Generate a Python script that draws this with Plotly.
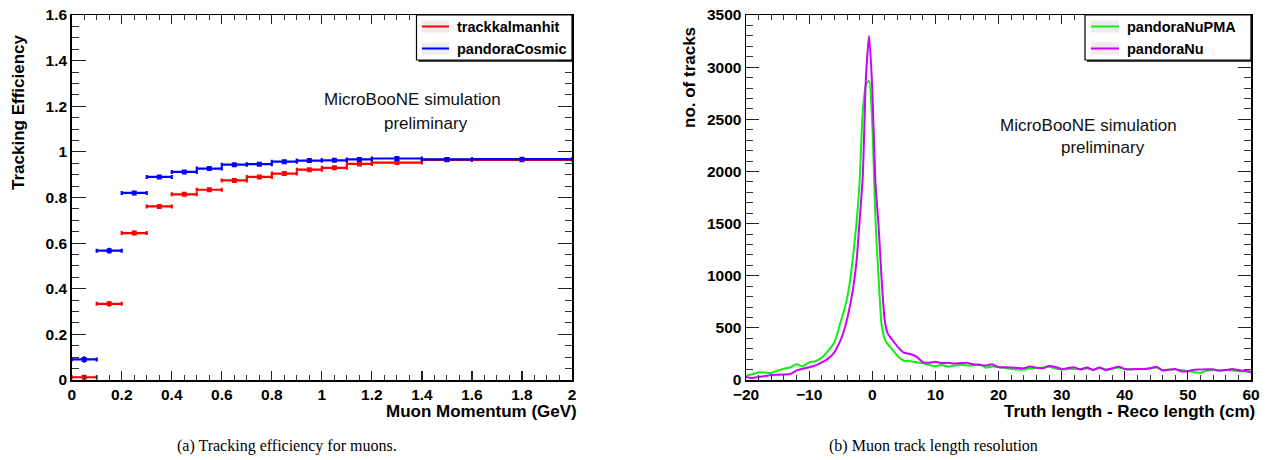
import plotly.graph_objects as go

W, H = 1267, 460

# ---------------- Left panel: tracking efficiency ----------------
bin_lo = [0.0, 0.1, 0.2, 0.3, 0.4, 0.5, 0.6, 0.7, 0.8, 0.9, 1.0, 1.1, 1.2, 1.4, 1.6]
bin_hi = [0.1, 0.2, 0.3, 0.4, 0.5, 0.6, 0.7, 0.8, 0.9, 1.0, 1.1, 1.2, 1.4, 1.6, 2.0]
eff_kalman = [0.012, 0.334, 0.644, 0.761, 0.814, 0.834, 0.875, 0.890, 0.905, 0.922,
              0.930, 0.947, 0.953, 0.965, 0.965]
err_kalman = [0.004, 0.012, 0.010, 0.008, 0.007, 0.006, 0.006, 0.005, 0.005, 0.005,
              0.005, 0.004, 0.004, 0.004, 0.004]
eff_cosmic = [0.090, 0.567, 0.820, 0.890, 0.912, 0.927, 0.944, 0.946, 0.957, 0.962,
              0.963, 0.967, 0.971, 0.967, 0.968]
err_cosmic = [0.014, 0.013, 0.009, 0.007, 0.006, 0.005, 0.005, 0.005, 0.004, 0.004,
              0.004, 0.004, 0.004, 0.004, 0.004]

# ---------------- Right panel: track length resolution ----------------
dlen = [-20, -19, -18, -17, -16, -15, -14, -13, -12, -11, -10, -9, -8, -7, -6,
        -5.5, -5, -4.5, -4, -3.5, -3, -2.5, -2, -1.5, -1, -0.5, 0, 0.5, 1, 1.5, 2, 2.5, 3,
        4, 5, 6, 7, 8, 9, 10, 11, 12, 13, 14, 15, 16, 17, 18, 19, 20, 21, 22, 23,
        24, 25, 26, 27, 28, 29, 30, 31, 32, 33, 34, 35, 36, 37, 38, 39, 40, 41, 42, 43,
        44, 45, 46, 47, 48, 49, 50, 51, 52, 53, 54, 55, 56, 57, 58, 59, 60]
n_pma = [40, 55, 75, 72, 68, 90, 108, 120, 150, 130, 170, 180, 215, 280, 360,
         450, 560, 660, 780, 960, 1210, 1500, 1900, 2580, 2830, 2870, 2450, 1550, 980, 520, 390, 340, 305,
         230, 185, 180, 170, 160, 145, 132, 145, 128, 138,
         147, 140, 140, 152, 118, 130, 125, 115, 105, 100,
         100, 110, 115, 120, 128, 110, 100, 105, 108, 105,
         110, 98, 115, 100, 105, 120, 105, 100, 105, 105,
         110, 120, 95, 100, 100, 95, 85, 75, 68, 90,
         95, 90, 95, 92, 85, 85, 80]
n_nu = [30, 18, 30, 38, 48, 50, 52, 58, 90, 108, 122, 140, 168, 205, 265,
        320, 385, 470, 580, 720, 890, 1130, 1530, 1950, 2900, 3300, 2800, 1900, 1480, 950, 560, 440, 400,
        320, 262, 250, 225, 172, 165, 175, 162, 165, 158,
        162, 165, 150, 145, 138, 150, 122, 122, 120, 116,
        112, 130, 118, 112, 135, 125, 105, 115, 121, 100,
        120, 96, 120, 96, 112, 128, 106, 104, 105, 105,
        112, 128, 92, 98, 105, 82, 85, 98, 100, 104,
        102, 90, 95, 105, 95, 88, 75]

RED, BLUE = "#ff0000", "#0000ff"
GREEN, MAG = "#11ee11", "#cc00ff"


def px(x):
    return x / W


def py(y):
    return 1 - y / H


# frame pixel positions
L_X0, L_X1 = 71.7, 572
R_X0, R_X1 = 746, 1251
Y_TOP, Y_BOT = 15, 380

fig = go.Figure()

centers = [(a + b) / 2 for a, b in zip(bin_lo, bin_hi)]
halfw = [(b - a) / 2 for a, b in zip(bin_lo, bin_hi)]

for eff, err, col in [(eff_kalman, err_kalman, RED), (eff_cosmic, err_cosmic, BLUE)]:
    fig.add_trace(go.Scatter(
        x=centers, y=eff, mode="markers", xaxis="x", yaxis="y",
        marker=dict(symbol="square", size=5, color=col),
        error_x=dict(type="data", array=halfw, color=col, thickness=2.2, width=2),
        error_y=dict(type="data", array=err, color=col, thickness=2, width=0),
        showlegend=False, hoverinfo="skip"))

fig.add_trace(go.Scatter(x=dlen, y=n_pma, mode="lines", xaxis="x2", yaxis="y2",
                         line=dict(color=GREEN, width=2, shape="spline", smoothing=0.6),
                         showlegend=False))
fig.add_trace(go.Scatter(x=dlen, y=n_nu, mode="lines", xaxis="x2", yaxis="y2",
                         line=dict(color=MAG, width=2, shape="spline", smoothing=0.6),
                         showlegend=False))

tickfont = dict(family="Liberation Sans", size=15.5, color="black", weight="bold")


def axis(domain, rng, dtick, mdtick, ticklen, mticklen, anchor):
    return dict(domain=domain, range=rng, dtick=dtick, tick0=0, automargin=False,
                showgrid=False, zeroline=False, showline=True, linecolor="black", linewidth=1.5,
                mirror="ticks", ticks="inside", ticklen=ticklen, tickwidth=1.2, tickcolor="#222",
                minor=dict(dtick=mdtick, ticks="inside", ticklen=mticklen, tickwidth=1,
                           tickcolor="#333", showgrid=False),
                tickfont=tickfont, anchor=anchor, fixedrange=True)


ydom = [py(Y_BOT), py(Y_TOP)]
fig.update_layout(
    width=W, height=H, margin=dict(l=0, r=0, t=0, b=0, pad=0, autoexpand=False),
    paper_bgcolor="white", plot_bgcolor="white", showlegend=False,
    xaxis=axis([px(L_X0), px(L_X1)], [0, 2], 0.2, 0.05, 9, 5, "y"),
    yaxis=axis(ydom, [0, 1.6], 0.2, 0.05, 14, 7, "x"),
    xaxis2=axis([px(R_X0), px(R_X1)], [-20, 60], 10, 2, 9, 5, "y2"),
    yaxis2=axis(ydom, [0, 3500], 500, 100, 13, 7, "x2"),
)

shapes = []
ann = []

title_font = dict(family="Liberation Sans", size=17, color="black", weight="bold")
ann.append(dict(text="Muon Momentum (GeV)", x=px(579), y=py(411), xanchor="right", yanchor="middle",
                font=title_font))
ann.append(dict(text="Truth length - Reco length (cm)", x=px(1257), y=py(411), xanchor="right",
                yanchor="middle", font=title_font))
ann.append(dict(text="Tracking Efficiency", x=px(18), y=py(113), textangle=-90, xanchor="center",
                yanchor="middle", font=title_font))
ann.append(dict(text="no. of tracks", x=px(689), y=py(78), textangle=-90, xanchor="center",
                yanchor="middle", font=title_font))

txt_font = dict(family="Liberation Sans", size=17, color="#111")
ann.append(dict(text="MicroBooNE simulation", x=px(412), y=py(100), xanchor="center", yanchor="middle",
                font=txt_font))
ann.append(dict(text="preliminary", x=px(426), y=py(123), xanchor="center", yanchor="middle",
                font=txt_font))
ann.append(dict(text="MicroBooNE simulation", x=px(1088), y=py(126), xanchor="center", yanchor="middle",
                font=txt_font))
ann.append(dict(text="preliminary", x=px(1103), y=py(148), xanchor="center", yanchor="middle",
                font=txt_font))

cap_font = dict(family="Liberation Serif", size=16, color="black")
ann.append(dict(text="(a) Tracking efficiency for muons.", x=px(287), y=py(446), xanchor="center",
                yanchor="middle", font=cap_font))
ann.append(dict(text="(b) Muon track length resolution", x=px(933), y=py(446), xanchor="center",
                yanchor="middle", font=cap_font))

leg_font = dict(family="Liberation Sans", size=14.5, color="black", weight="bold")


def legend(x0, x1, y0, y1, entries, lx0, lx1, tx):
    shapes.append(dict(type="rect", xref="paper", yref="paper", x0=px(x0), x1=px(x1), y0=py(y1), y1=py(y0),
                       line=dict(color="black", width=1.2), fillcolor="white", layer="above"))
    shapes.append(dict(type="line", xref="paper", yref="paper", x0=px(x1 + 1), x1=px(x1 + 1),
                       y0=py(y1 + 1), y1=py(y0 + 2), line=dict(color="black", width=1.5), layer="above"))
    shapes.append(dict(type="line", xref="paper", yref="paper", x0=px(x0 + 2), x1=px(x1 + 1),
                       y0=py(y1 + 1), y1=py(y1 + 1), line=dict(color="black", width=1.5), layer="above"))
    for (name, col, yy) in entries:
        shapes.append(dict(type="rect", xref="paper", yref="paper", x0=px(lx0), x1=px(lx1),
                           y0=py(yy + 6), y1=py(yy - 6), line=dict(width=0), fillcolor="#ececec",
                           layer="above"))
        shapes.append(dict(type="line", xref="paper", yref="paper", x0=px(lx0), x1=px(lx1),
                           y0=py(yy), y1=py(yy), line=dict(color=col, width=2), layer="above"))
        ann.append(dict(text=name, x=px(tx), y=py(yy), xanchor="left", yanchor="middle", font=leg_font))


legend(416.5, 572, 15, 60, [("trackkalmanhit", RED, 26.5), ("pandoraCosmic", BLUE, 48.5)], 422, 449, 455)
legend(1085, 1251, 15, 60, [("pandoraNuPMA", GREEN, 26.5), ("pandoraNu", MAG, 48.5)], 1091, 1119, 1125)

for a in ann:
    a.update(xref="paper", yref="paper", showarrow=False)

fig.update_layout(shapes=shapes, annotations=ann)
fig.write_html("out.html", config={"displayModeBar": False, "staticPlot": True},
               post_script="document.body.style.margin='0';document.body.style.padding='0';"
                           "document.body.style.overflow='hidden';")
